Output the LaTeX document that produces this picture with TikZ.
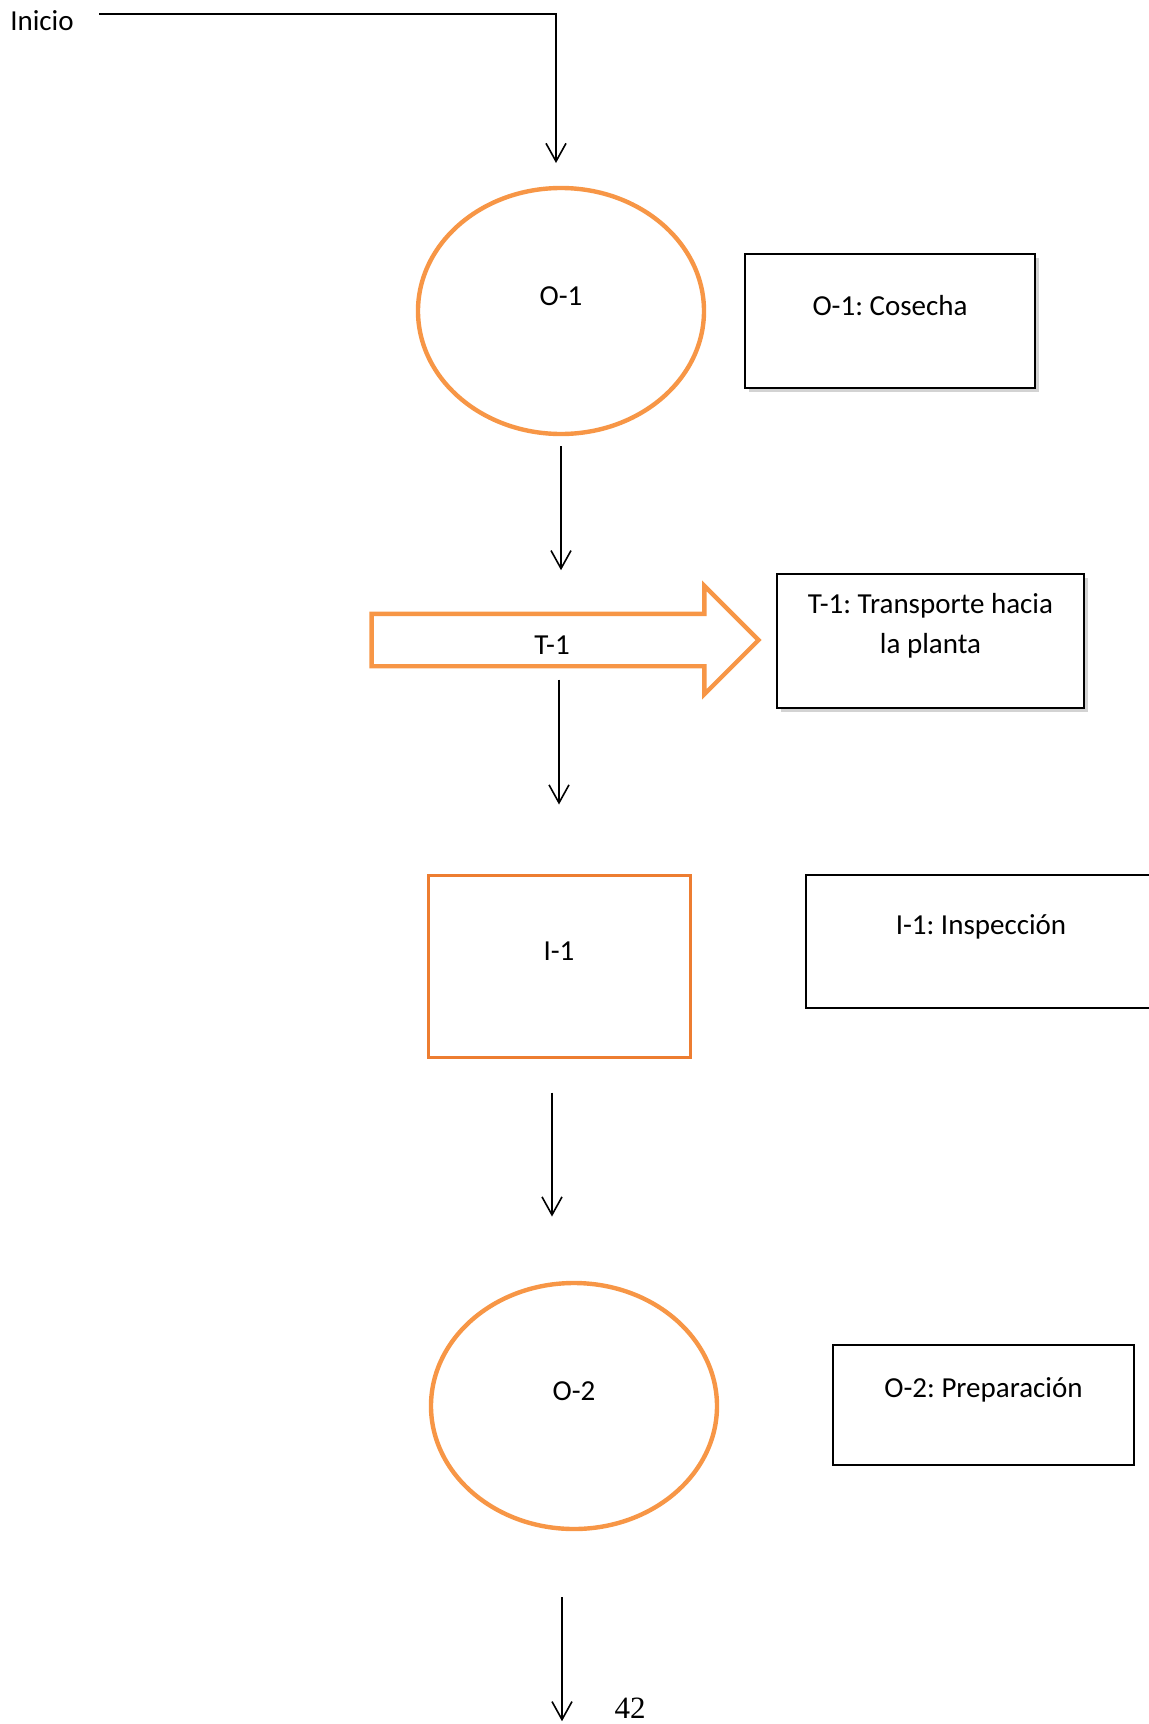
\documentclass[tikz,border=0pt]{standalone}
\usepackage{fontspec}
\setmainfont{Carlito}
\newfontfamily\pagefont{Liberation Serif}
\frenchspacing
\usepackage{tikz}
\usetikzlibrary{shapes.geometric,shapes.arrows,shadows,arrows.meta}
\definecolor{opOrange}{HTML}{F79646}
\definecolor{inspOrange}{HTML}{ED7D31}

\begin{document}
\begin{tikzpicture}[x=0.5pt,y=-0.5pt]
  \tikzset{OperationStyle/.style = {
    shape          = ellipse,
    draw           = opOrange,
    fill           = white,
    line width     = 2.2pt,
    minimum width  = 143pt,
    minimum height = 123pt,
    inner sep      = 0pt
    }
  }
  \tikzset{TransportStyle/.style = {
    shape                    = single arrow,
    draw                     = opOrange,
    fill                     = white,
    line width               = 2.2pt,
    minimum height           = 193.5pt,
    minimum width            = 40pt,
    single arrow head extend = 14pt,
    inner xsep               = 0pt,
    inner ysep               = 12pt
    }
  }
  \tikzset{InspectionStyle/.style = {
    shape          = rectangle,
    draw           = inspOrange,
    fill           = white,
    line width     = 1.5pt,
    minimum width  = 131pt,
    minimum height = 91pt,
    inner sep      = 0pt
    }
  }
  \tikzset{NoteStyle/.style = {
    shape          = rectangle,
    draw           = black,
    fill           = white,
    line width     = 0.7pt,
    minimum height = 67pt,
    inner sep      = 0pt
    }
  }
  \tikzset{NoteShadow/.style = {
    drop shadow = {shadow xshift=1.8pt, shadow yshift=-2.2pt, opacity=0.35}
    }
  }
  \tikzset{LabelStyle/.style = {
    font      = \fontsize{14.5}{20}\selectfont,
    text      = black,
    align     = center,
    inner sep = 0pt
    }
  }
  \tikzset{FlowStyle/.style = {
    draw       = black,
    line width = 0.8pt,
    -{Straight Barb[length=9pt,width=10pt]}
    }
  }

  \useasboundingbox (0,0) rectangle (1149,1724);

  \node[LabelStyle](Inicio) at (42,21) {Inicio};
  \coordinate (start) at (99,14);
  \coordinate (entry) at (556,163);

  \node[OperationStyle, label={[LabelStyle, yshift=7.5pt]center:O-1}](O1) at (561,311) {};
  \node[NoteStyle, NoteShadow, minimum width=145pt,
        label={[LabelStyle, yshift=7.5pt]center:{O-1: Cosecha}}](N1) at (890,321) {};

  \node[TransportStyle, label={[LabelStyle, yshift=-2.5pt]center:T-1}](T1) at (552,640) {};
  \node[NoteStyle, NoteShadow, minimum width=153.5pt,
        label={[LabelStyle, yshift=7.5pt]center:{T-1: Transporte hacia\\la planta}}](N2) at (930.5,641) {};

  \node[InspectionStyle, label={[LabelStyle, yshift=7.5pt]center:I-1}](I1) at (559,966) {};
  \node[NoteStyle, minimum width=175pt, minimum height=66.5pt,
        label={[LabelStyle, yshift=7.5pt]center:{I-1: Inspección}}](N3) at (981,941.5) {};

  \node[OperationStyle, label={[LabelStyle, yshift=7.5pt]center:O-2}](O2) at (574,1406) {};
  \node[NoteStyle, minimum width=150.5pt, minimum height=60pt,
        label={[LabelStyle, yshift=7.5pt]center:{O-2: Preparación}}](N4) at (983.5,1405) {};

  \node[font=\pagefont\fontsize{15.5}{18}\selectfont](page) at (630,1708) {42};

  \draw[FlowStyle] (start) -| (entry);
  \draw[FlowStyle] (O1.south) ++(0,10) -- ++(0,124);
  \draw[FlowStyle] (I1.north) ++(0,-194) -- ++(0,125);
  \draw[FlowStyle] (I1.south) ++(-7,34) -- ++(0,124);
  \draw[FlowStyle] (O2.south) ++(-12,66) -- ++(0,124);

\end{tikzpicture}
\end{document}
